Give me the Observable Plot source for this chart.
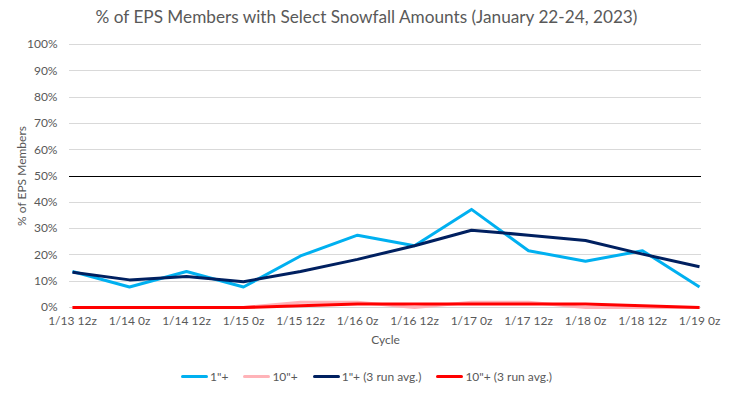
<!DOCTYPE html>
<html>
<head>
<meta charset="utf-8">
<script src="https://cdn.jsdelivr.net/npm/d3@7"></script>
<script src="https://cdn.jsdelivr.net/npm/@observablehq/plot@0.6"></script>
<style>
  html, body { margin: 0; padding: 0; background: #fff; }
  #wrap { position: relative; width: 733px; height: 397px; font-family: Lato, "Open Sans", sans-serif; color: #595959; overflow: hidden; }
  #title { position: absolute; left: 0; top: 6px; width: 733px; text-align: center; font-size: 17.2px; color: #595959; }
  #legend { position: absolute; left: 0; top: 369px; width: 733px; display: flex; justify-content: center; gap: 15px; font-size: 12px; color: #595959; }
  .item { display: flex; align-items: center; }
  .sw { width: 27px; height: 3px; border-radius: 1.5px; margin-right: 2px; }
  #chart { position: absolute; left: 0; top: 0; }
</style>
</head>
<body>
<div id="wrap">
  <div id="chart"></div>
  <div id="title">% of EPS Members with Select Snowfall Amounts (January 22-24, 2023)</div>
  <div id="legend"></div>
</div>
<script>
const cycles = ["1/13 12z","1/14 0z","1/14 12z","1/15 0z","1/15 12z","1/16 0z","1/16 12z","1/17 0z","1/17 12z","1/18 0z","1/18 12z","1/19 0z"];
const pct1   = [13.7, 7.8, 13.7, 7.8, 19.6, 27.5, 23.5, 37.3, 21.6, 17.6, 21.6, 7.8];
const pct10  = [0, 0, 0, 0, 2.0, 2.0, 0, 2.0, 2.0, 0, 0, 0];
const avg1   = [13.4, 10.5, 11.8, 9.8, 13.7, 18.3, 23.5, 29.4, 27.5, 25.5, 20.3, 15.5];
const avg10  = [0, 0, 0, 0, 0.65, 1.3, 1.3, 1.3, 1.3, 1.3, 0.65, 0];
const yTicks = [0,10,20,30,40,50,60,70,80,90,100];

const seriesNames = ['1"+', '10"+', '1"+ (3 run avg.)', '10"+ (3 run avg.)'];
const seriesColors = ["#00B0F0", "#FFB3B8", "#002060", "#FF0000"];
const seriesValues = [pct1, pct10, avg1, avg10];

const rows = [];
seriesNames.forEach((s, i) => cycles.forEach((c, j) => rows.push({series: s, cycle: c, value: seriesValues[i][j]})));

const chart = Plot.plot({
  width: 733,
  height: 397,
  marginTop: 44,
  marginBottom: 90,
  marginLeft: 69,
  marginRight: 32,
  style: {fontFamily: "Lato, 'Open Sans', sans-serif", fontSize: "12px", color: "#595959", background: "transparent"},
  x: {type: "point", domain: cycles, padding: 0, label: null},
  y: {domain: [0, 100], label: null},
  color: {domain: seriesNames, range: seriesColors},
  marks: [
    Plot.gridY(yTicks, {stroke: "#D9D9D9", strokeOpacity: 1, strokeWidth: 1, shapeRendering: "crispEdges"}),
    Plot.ruleY([50], {stroke: "#000", strokeWidth: 1, shapeRendering: "crispEdges"}),
    Plot.axisY(yTicks, {tickSize: 0, tickPadding: 12, tickFormat: d => d + "%", fill: "#595959", fontSize: 12, label: null}),
    Plot.axisX({tickSize: 0, tickPadding: 9, fill: "#595959", fontSize: 12, label: null}),
    Plot.text(["% of EPS Members"], {frameAnchor: "left", textAnchor: "middle", dx: -47, rotate: -90, fill: "#595959", fontSize: 12}),
    Plot.text(["Cycle"], {frameAnchor: "bottom", dy: 36, fill: "#595959", fontSize: 12}),
    Plot.line(rows, {x: "cycle", y: "value", z: "series", stroke: "series", strokeWidth: 3, strokeLinejoin: "round", strokeLinecap: "butt"})
  ]
});
document.getElementById("chart").appendChild(chart);

const legend = document.getElementById("legend");
seriesNames.forEach((s, i) => {
  const it = document.createElement("div");
  it.className = "item";
  const sw = document.createElement("span");
  sw.className = "sw";
  sw.style.background = seriesColors[i];
  const t = document.createElement("span");
  t.textContent = s;
  it.appendChild(sw); it.appendChild(t);
  legend.appendChild(it);
});
</script>
</body>
</html>
